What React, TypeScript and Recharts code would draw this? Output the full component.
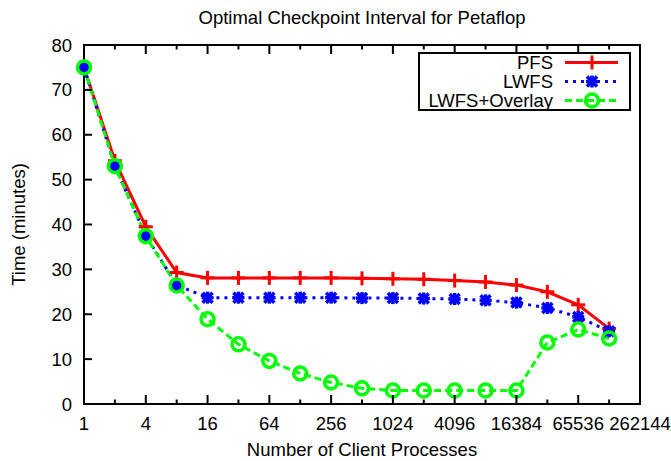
import React from 'react';
import { LineChart, Line, XAxis, YAxis, Legend, ReferenceArea } from 'recharts';

// ---- data ----
const processes = [1, 2, 4, 8, 16, 32, 64, 128, 256, 512, 1024, 2048, 4096, 8192, 16384, 32768, 65536, 131072];
const pfsValues = [75, 54.2, 39.5, 29.3, 28.1, 28.1, 28.1, 28.1, 28.1, 28.0, 27.9, 27.8, 27.5, 27.2, 26.5, 25.0, 22.1, 16.8];
const lwfsValues = [75, 53, 37.5, 26.5, 23.7, 23.7, 23.7, 23.7, 23.7, 23.6, 23.6, 23.5, 23.4, 23.1, 22.6, 21.4, 19.4, 16.2];
const overlayValues = [75, 53, 37.4, 26.4, 18.9, 13.3, 9.6, 6.8, 4.8, 3.5, 3.0, 3.0, 3.0, 3.0, 3.0, 13.7, 16.6, 14.6];
const xTickValues = [1, 2, 4, 8, 16, 32, 64, 128, 256, 512, 1024, 2048, 4096, 8192, 16384, 32768, 65536, 131072, 262144];
const yTickValues = [0, 10, 20, 30, 40, 50, 60, 70, 80];
const seriesNames = ['PFS', 'LWFS', 'LWFS+Overlay'];
const TITLE = 'Optimal Checkpoint Interval for Petaflop';
const X_LABEL = 'Number of Client Processes';
const Y_LABEL = 'Time (minutes)';

const data = processes.map((p, i) => ({
  p,
  pfs: pfsValues[i],
  lwfs: lwfsValues[i],
  overlay: overlayValues[i],
}));

// ---- styles ----
const FONT = '"Liberation Sans", Arial, Helvetica, sans-serif';
const FS = 18.5;
const RED = '#ff0000';
const BLUE = '#0000ff';
const GREEN = '#00ff00';

const SText = ({ x, y, anchor = 'middle', size = FS, rotate = 0, children }: any) => (
  <text
    x={x}
    y={y}
    textAnchor={anchor}
    fontFamily={FONT}
    fontSize={size}
    fill="#000"
    transform={rotate ? `rotate(${rotate},${x},${y})` : undefined}
  >
    {children}
  </text>
);

const isMajor = (v: number) => Math.round(Math.log2(v)) % 2 === 0;

const BottomTick = (props: any) => {
  const { x, y, payload } = props;
  const major = isMajor(payload.value);
  return (
    <g>
      <line x1={x} y1={y} x2={x} y2={y - (major ? 9 : 4.5)} stroke="#000" strokeWidth={2} />
      {major && <SText x={x} y={y + 25.5}>{String(payload.value)}</SText>}
    </g>
  );
};

const TopTick = (props: any) => {
  const { x, y, payload } = props;
  const major = isMajor(payload.value);
  return <line x1={x} y1={y} x2={x} y2={y + (major ? 9 : 4.5)} stroke="#000" strokeWidth={2} />;
};

const LeftTick = (props: any) => {
  const { x, y, payload } = props;
  return (
    <g>
      <line x1={x} y1={y} x2={x + 8} y2={y} stroke="#000" strokeWidth={2} />
      <SText x={x - 12} y={y + 6.5} anchor="end">{String(payload.value)}</SText>
    </g>
  );
};

const RightTick = (props: any) => {
  const { x, y } = props;
  return <line x1={x} y1={y} x2={x - 8} y2={y} stroke="#000" strokeWidth={2} />;
};

const XLabel = (props: any) => {
  const vb = props.viewBox || { x: 84, y: 404, width: 556 };
  const cx = vb.x + vb.width / 2;
  return (
    <g>
      <SText x={cx} y={vb.y + 52}>{X_LABEL}</SText>
      <SText x={cx} y={23.5}>{TITLE}</SText>
    </g>
  );
};

const YLabel = (props: any) => {
  const vb = props.viewBox || { x: 0, y: 45, height: 359 };
  return <SText x={vb.x + 25} y={vb.y + vb.height / 2} rotate={-90}>{Y_LABEL}</SText>;
};

// ---- markers ----
const PlusMark = ({ cx, cy }: any) => (
  <g>
    <line x1={cx - 7} y1={cy} x2={cx + 7} y2={cy} stroke={RED} strokeWidth={3} />
    <line x1={cx} y1={cy - 7} x2={cx} y2={cy + 7} stroke={RED} strokeWidth={3} />
  </g>
);

const StarMark = ({ cx, cy }: any) => (
  <g stroke={BLUE} strokeWidth={3.5}>
    <line x1={cx - 6} y1={cy} x2={cx + 6} y2={cy} />
    <line x1={cx} y1={cy - 6} x2={cx} y2={cy + 6} />
    <line x1={cx - 5} y1={cy - 5} x2={cx + 5} y2={cy + 5} />
    <line x1={cx - 5} y1={cy + 5} x2={cx + 5} y2={cy - 5} />
  </g>
);

const CircleMark = ({ cx, cy }: any) => (
  <circle cx={cx} cy={cy} r={6.5} fill="none" stroke={GREEN} strokeWidth={3.5} />
);

const seriesStyles = [
  { key: 'pfs', color: RED, dash: undefined as string | undefined, Mark: PlusMark },
  { key: 'lwfs', color: BLUE, dash: '3 5', Mark: StarMark },
  { key: 'overlay', color: GREEN, dash: '7 4', Mark: CircleMark },
];

const LegendBox = () => (
  <svg width={214} height={59} style={{ display: 'block', overflow: 'visible' }}>
    <rect x={1} y={1} width={211} height={57} fill="#fff" stroke="#000" strokeWidth={2} />
    {seriesNames.map((name, i) => {
      const s = seriesStyles[i];
      const cy = 10.5 + i * 19;
      const M = s.Mark;
      return (
        <g key={name}>
          <SText x={135} y={cy + 6.5} anchor="end">{name}</SText>
          <line x1={147} y1={cy} x2={200} y2={cy} stroke={s.color} strokeWidth={3} strokeDasharray={s.dash} />
          <M cx={174} cy={cy} />
        </g>
      );
    })}
  </svg>
);

export default function App() {
  return (
    <div>
      <style>{'body{margin:0;}'}</style>
      <LineChart width={671} height={461} data={data} margin={{ top: 44, right: 30, bottom: 0, left: 0 }}>
        <XAxis
          dataKey="p"
          type="number"
          scale="log"
          domain={[1, 262144]}
          ticks={xTickValues}
          interval={0}
          height={57}
          tickSize={0}
          tickMargin={0}
          tickLine={false}
          tick={<BottomTick />}
          axisLine={false}
          label={<XLabel />}
        />
        <XAxis
          xAxisId="top"
          orientation="top"
          dataKey="p"
          type="number"
          scale="log"
          domain={[1, 262144]}
          ticks={xTickValues}
          interval={0}
          height={1}
          tickSize={0}
          tickMargin={0}
          tickLine={false}
          tick={<TopTick />}
          axisLine={false}
        />
        <YAxis
          type="number"
          domain={[0, 80]}
          ticks={yTickValues}
          interval={0}
          width={84}
          tickSize={0}
          tickMargin={0}
          tickLine={false}
          tick={<LeftTick />}
          axisLine={false}
          label={<YLabel />}
        />
        <YAxis
          yAxisId="right"
          orientation="right"
          type="number"
          domain={[0, 80]}
          ticks={yTickValues}
          interval={0}
          width={1}
          tickSize={0}
          tickMargin={0}
          tickLine={false}
          tick={<RightTick />}
          axisLine={false}
        />
        <ReferenceArea
          x1={1}
          x2={262144}
          y1={0}
          y2={80}
          fill="none"
          fillOpacity={0}
          stroke="#000"
          strokeWidth={2}
          strokeOpacity={1}
          ifOverflow="visible"
        />
        <Legend
          layout="vertical"
          align="center"
          verticalAlign="middle"
          content={<LegendBox />}
          wrapperStyle={{ position: 'absolute', left: 418, top: 52, width: 214, height: 59 }}
        />
        {seriesStyles.map((s, i) => (
          <Line
            key={s.key}
            name={seriesNames[i]}
            dataKey={s.key}
            type="linear"
            stroke={s.color}
            strokeWidth={3}
            strokeDasharray={s.dash}
            dot={<s.Mark />}
            activeDot={false}
            isAnimationActive={false}
          />
        ))}
      </LineChart>
    </div>
  );
}
